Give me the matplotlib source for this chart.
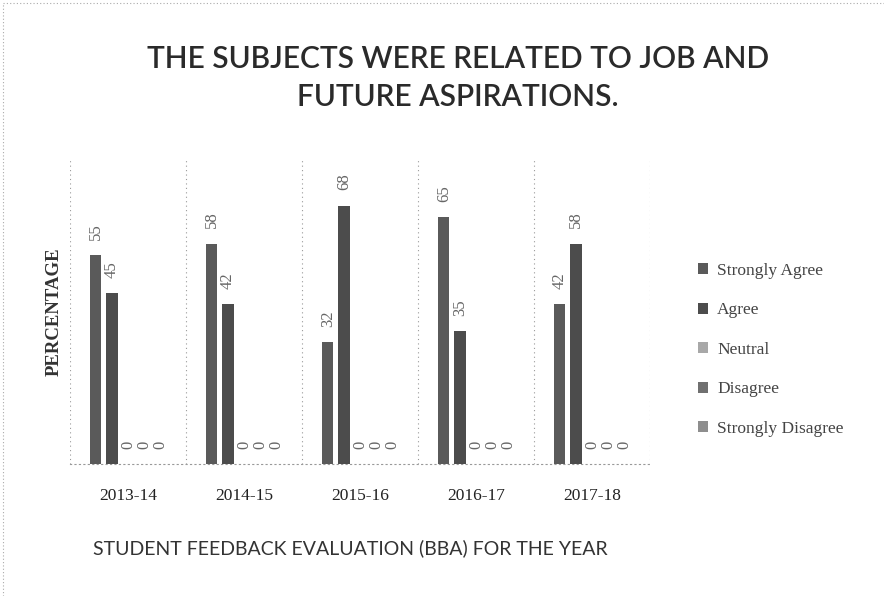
import matplotlib
matplotlib.use('Agg')
import matplotlib.pyplot as plt
from matplotlib.lines import Line2D
import numpy as np

years = ['2013-14', '2014-15', '2015-16', '2016-17', '2017-18']
series = ['Strongly Agree', 'Agree', 'Neutral', 'Disagree', 'Strongly Disagree']
strongly_agree = [55, 58, 32, 65, 42]
agree = [45, 42, 68, 35, 58]
neutral = [0, 0, 0, 0, 0]
disagree = [0, 0, 0, 0, 0]
strongly_disagree = [0, 0, 0, 0, 0]
data = [strongly_agree, agree, neutral, disagree, strongly_disagree]
colors = ['#5a5a5a', '#4c4c4c', '#a8a8a8', '#707070', '#8e8e8e']

fig = plt.figure(figsize=(8.84, 5.96), dpi=100)
ax = fig.add_axes([70/884, 1-464/596, 580/884, 304/596])

x = np.arange(len(years))
slot = 0.138
width = 0.095
for i, (name, vals) in enumerate(zip(series, data)):
    bars = ax.bar(x + (i - 2) * slot, vals, width, color=colors[i], label=name, zorder=3)
    ax.bar_label(bars, labels=[str(v) for v in vals], rotation=90, padding=11,
                 fontsize=12, family='Liberation Serif', color='#666666')

ax.set_xlim(-0.5, len(years) - 0.5)
ax.set_ylim(0, 80)
ax.set_xticks(x)
ax.set_xticklabels(years, family='Liberation Serif', fontsize=12.5, color='#222222')
ax.set_xticks(np.arange(-0.5, len(years)), minor=True)
ax.tick_params(axis='x', which='both', length=0, pad=17)
ax.set_yticks([])
ax.grid(which='minor', axis='x', linestyle=(0, (1, 3)), color='#999999', linewidth=0.8)
for s in ['top', 'right', 'left']:
    ax.spines[s].set_visible(False)
ax.spines['bottom'].set_linestyle((0, (1, 3)))
ax.spines['bottom'].set_color('#999999')

ax.set_xlabel('STUDENT FEEDBACK EVALUATION (BBA) FOR THE YEAR', family='Lato',
              fontsize=14, color='#333333', labelpad=29)
ax.xaxis.set_label_coords((350 - 70) / 580, -(548 - 464) / 304 + 0.03)
ax.set_ylabel('PERCENTAGE', family='Liberation Serif', fontsize=13.5, fontweight='bold',
              color='#333333', labelpad=5)

fig.text(0.518, 1 - 78/596, 'THE SUBJECTS WERE RELATED TO JOB AND\nFUTURE ASPIRATIONS.',
         ha='center', va='center', family='Lato', fontsize=21.5, fontweight='semibold',
         color='#2a2a2a', linespacing=1.4)

leg = fig.legend(loc='upper left', bbox_to_anchor=(698/884, 1-263/596), frameon=False,
                 prop={'family': 'Liberation Serif', 'size': 12.5}, labelcolor='#444444',
                 handlelength=0.6, handleheight=0.6, handletextpad=0.5,
                 labelspacing=1.35, borderpad=0, borderaxespad=0)

fig.add_artist(Line2D([3/884, 3/884], [0, 1-3/596], transform=fig.transFigure,
                      linestyle=(0, (1, 2)), color='#aaaaaa', linewidth=0.8))
fig.add_artist(Line2D([3/884, 1], [1-3/596, 1-3/596], transform=fig.transFigure,
                      linestyle=(0, (1, 2)), color='#aaaaaa', linewidth=0.8))

fig.savefig('out.png', dpi=100)
